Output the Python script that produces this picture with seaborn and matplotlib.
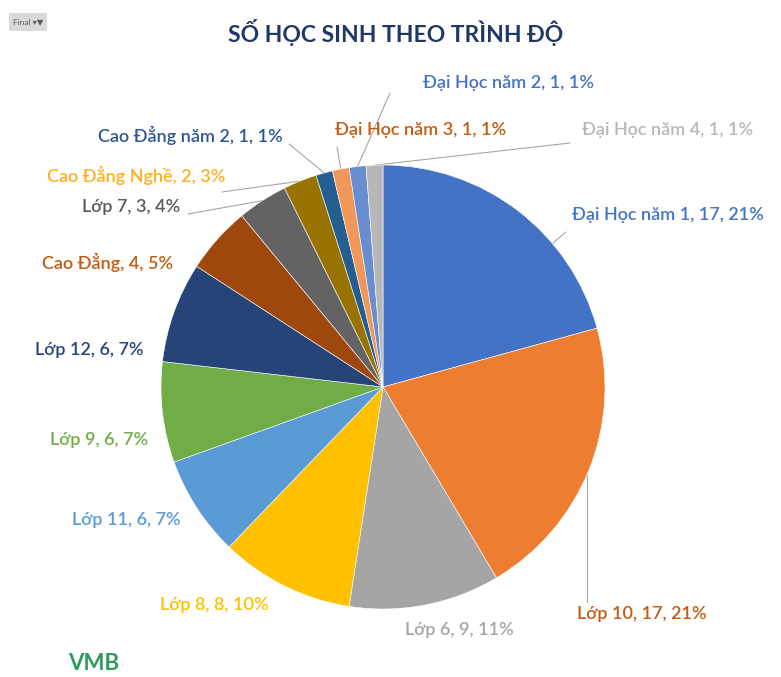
import numpy as np
import matplotlib
matplotlib.use("Agg")
import matplotlib.pyplot as plt
import seaborn as sns

sns.set_theme(style="white")
plt.rcParams['font.family'] = ['Lato', 'Noto Sans', 'DejaVu Sans']

# data (clockwise from 12 o'clock)
categories = ["Đại Học năm 1", "Lớp 10", "Lớp 6", "Lớp 8", "Lớp 11", "Lớp 9",
              "Lớp 12", "Cao Đẳng", "Lớp 7", "Cao Đẳng Nghề", "Cao Đẳng năm 2",
              "Đại Học năm 3", "Đại Học năm 2", "Đại Học năm 4"]
counts = [17, 17, 9, 8, 6, 6, 6, 4, 3, 2, 1, 1, 1, 1]
percents = [21, 21, 11, 10, 7, 7, 7, 5, 4, 3, 1, 1, 1, 1]

colors = ["#4472C4", "#ED7D31", "#A5A5A5", "#FFC000", "#5B9BD5", "#70AD47",
          "#264478", "#9E480E", "#636363", "#997300", "#255E91",
          "#F1975A", "#698ED0", "#B7B7B7"]
label_colors = ["#4472C4", "#C55A11", "#A5A5A5", "#FFC000", "#5B9BD5", "#70AD47",
                "#264478", "#C55A11", "#595959", "#FFB020", "#2F5597",
                "#C55A11", "#4472C4", "#B7B7B7"]

W, H = 781, 677
# label placement in pixels (left x, centre y)
label_xy = [(572, 215), (577, 614), (405, 630), (160, 605), (72, 520), (50, 440),
            (35, 350), (42, 262), (82, 207), (47, 175), (98, 135),
            (335, 130), (423, 83), (582, 130)]
# leader lines: label-side anchor in pixels, None = no line
leader_from = [(566, 232), (587, 602), None, None, None, None,
               None, None, (188, 214), (222, 192), (289, 144),
               (337, 147), (390, 93), (570, 143)]

cx, cy, r = 383, 387, 222

fig = plt.figure(figsize=(W / 100, H / 100), dpi=100)
ax = fig.add_axes([0, 0, 1, 1])

ax.pie(counts, colors=colors, startangle=90, counterclock=False,
       center=(cx, H - cy), radius=r,
       wedgeprops=dict(linewidth=0.4, edgecolor="white"))
ax.set_xlim(0, W)
ax.set_ylim(0, H)
ax.set_aspect("equal")
ax.axis("off")

# mid angles of the slices (degrees clockwise from top)
cum = np.cumsum([0] + counts) / sum(counts) * 360
mids = (cum[:-1] + cum[1:]) / 2

for i, name in enumerate(categories):
    x, y = label_xy[i]
    ax.text(x, H - y, f"{name}, {counts[i]}, {percents[i]}%", color=label_colors[i],
            fontsize=13, fontweight="semibold", ha="left", va="center")
    if leader_from[i] is None:
        continue
    lx, ly = leader_from[i]
    if i == 1:
        # vertical leader up to the rim
        ex = lx
        ey = cy + np.sqrt(r ** 2 - (lx - cx) ** 2)
    elif i == 0:
        a = np.arctan2(lx - cx, cy - ly)
        ex, ey = cx + r * np.sin(a), cy - r * np.cos(a)
    else:
        a = np.deg2rad(mids[i])
        ex, ey = cx + r * np.sin(a), cy - r * np.cos(a)
    ax.plot([lx, ex], [H - ly, H - ey], color="#A6A6A6", lw=0.8, zorder=0)

fig.text(396 / W, 1 - 33 / H, "SỐ HỌC SINH THEO TRÌNH ĐỘ", ha="center", va="center",
         fontsize=16.5, fontweight="bold", color="#1F3864")

# filter button top-left
fig.patches.append(matplotlib.patches.Rectangle((9 / W, 1 - 31 / H), 38 / W, 18 / H,
                   transform=fig.transFigure, facecolor="#D9D9D9", edgecolor="none"))
fig.text(28 / W, 1 - 22 / H, "Final ▾▼", ha="center", va="center", fontsize=6,
         color="#595959")

# logo bottom-left
fig.text(68 / W, 1 - 663 / H, "VMB", ha="left", va="center", fontsize=16,
         fontweight="bold", color="#2E9A5E")

fig.savefig("out.png", dpi=100)
